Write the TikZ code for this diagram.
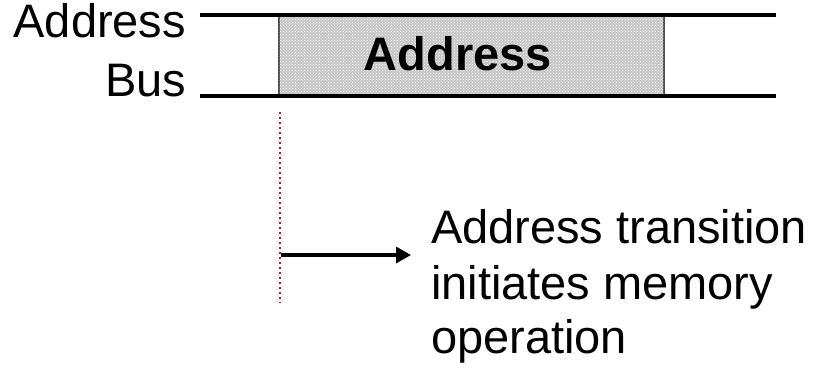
\documentclass[tikz,border=0pt]{standalone}
\usepackage{fontspec}
\setmainfont{Liberation Sans}
\usetikzlibrary{arrows.meta,patterns}
\definecolor{busred}{RGB}{235,0,40}
\definecolor{boxfill}{RGB}{198,198,198}
\tikzset{
  big/.style={font=\fontsize{47}{56}\selectfont, inner sep=0pt, outer sep=0pt},
  busline/.style={line width=3.2pt, black},
  addrbox/.style={draw=black!70, line width=1.8pt, fill=boxfill,
    postaction={pattern=crosshatch dots, pattern color=white}},
  marker/.style={busred, line width=2.4pt, dash pattern=on 2pt off 3pt},
  pointer/.style={line width=3.2pt, -{Triangle[length=15pt,width=16pt]}},
}
\begin{document}
\begin{tikzpicture}[x=1pt,y=-1pt]
\useasboundingbox (0,0) rectangle (814,372);

% bus rails
\coordinate (tl) at (200,15);
\coordinate (tr) at (776,15);
\coordinate (bl) at (200,96);
\coordinate (br) at (776,96);

% valid-address window
\path[addrbox] (279,16) rectangle (664,96);
\draw[busline] (tl) -- (tr);
\draw[busline] (bl) -- (br);
\node[big, anchor=base, font=\fontsize{47}{56}\selectfont\bfseries] (addrtxt) at (458,70) {Address};

% signal name
\node[big, anchor=base east] (lab1) at (186,37) {Address};
\node[big, anchor=base east] (lab2) at (186,96) {Bus};

% transition marker
\coordinate (mtop) at (280,112);
\coordinate (mbot) at (280,303);
\draw[marker] (mtop) -- (mbot);

% explanation
\node[big, anchor=base west] (note1) at (431,243) {Address transition};
\node[big, anchor=base west] (note2) at (431,299) {initiates memory};
\node[big, anchor=base west] (note3) at (431,353) {operation};

\coordinate (trig) at (281,255);
\coordinate (tip) at (411,255);
\draw[pointer] (trig) -- (tip);
\end{tikzpicture}
\end{document}
